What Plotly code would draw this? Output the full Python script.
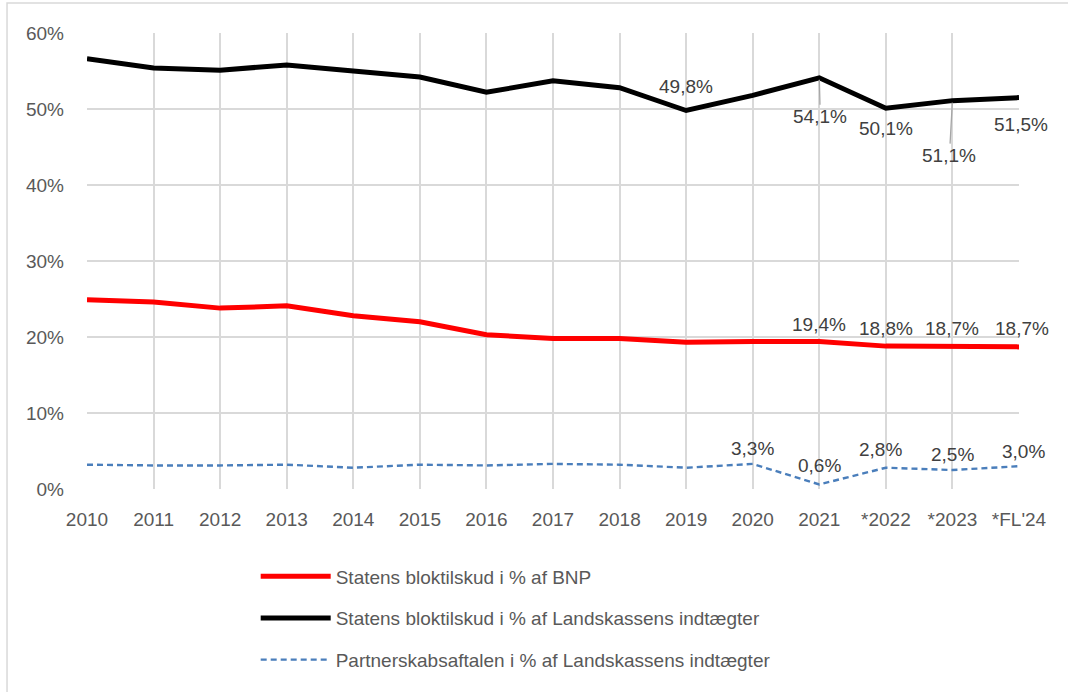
import plotly.graph_objects as go

categories = ["2010", "2011", "2012", "2013", "2014", "2015", "2016", "2017",
              "2018", "2019", "2020", "2021", "*2022", "*2023", "*FL'24"]

bnp = [24.9, 24.6, 23.8, 24.1, 22.8, 22.0, 20.3, 19.8, 19.8, 19.3, 19.4, 19.4, 18.8, 18.7, 18.7]
landskasse = [56.6, 55.4, 55.1, 55.8, 55.0, 54.2, 52.2, 53.7, 52.8, 49.8, 51.8, 54.1, 50.1, 51.1, 51.5]
partnerskab = [3.2, 3.1, 3.1, 3.2, 2.8, 3.2, 3.1, 3.3, 3.2, 2.8, 3.3, 0.6, 2.8, 2.5, 3.0]

y_ticks = [0, 10, 20, 30, 40, 50, 60]
y_ticktext = ["0%", "10%", "20%", "30%", "40%", "50%", "60%"]

names = ["Statens bloktilskud i % af BNP",
         "Statens bloktilskud i % af Landskassens indtægter",
         "Partnerskabsaftalen i % af Landskassens indtægter"]

FONT = "Liberation Sans"
GRID = "#d9d9d9"

fig = go.Figure()
fig.add_trace(go.Scatter(x=categories, y=bnp, mode="lines", name=names[0],
                         line=dict(color="#ff0000", width=5), legendgroup="a"))
fig.add_trace(go.Scatter(x=categories, y=landskasse, mode="lines", name=names[1],
                         line=dict(color="#000000", width=5), legendgroup="b"))
fig.add_trace(go.Scatter(x=categories, y=partnerskab, mode="lines", name=names[2],
                         line=dict(color="#4a7ebb", width=2.4, dash="6px,4px"), legendgroup="c"))

def fmt(v):
    return f"{v:.1f}".replace(".", ",") + "%"

# (series, category index, ax, ay, leader line)
label_specs = [
    (landskasse, 9, 0, -24, False),
    (landskasse, 11, 1, 39, True),
    (landskasse, 12, 0, 20, False),
    (landskasse, 13, -3, 55, True),
    (landskasse, 14, 2, 27, False),
    (bnp, 11, 0, -17, False),
    (bnp, 12, 0, -18, False),
    (bnp, 13, 0, -18, False),
    (bnp, 14, 3, -18, False),
    (partnerskab, 10, 0, -15, False),
    (partnerskab, 11, 0, -19, False),
    (partnerskab, 12, -5, -18, False),
    (partnerskab, 13, 0, -16, False),
    (partnerskab, 14, 4, -15, False),
]
for series, i, ax, ay, leader in label_specs:
    fig.add_annotation(
        x=i, y=series[i], text=fmt(series[i]),
        showarrow=True, ax=ax, ay=ay, axref="pixel", ayref="pixel",
        arrowhead=0, arrowwidth=1.3,
        arrowcolor="#a6a6a6" if leader else "rgba(0,0,0,0)",
        standoff=2 if leader else 0,
        font=dict(family=FONT, size=19, color="#404040"),
    )

# outer chart border (top and left visible)
fig.add_shape(type="rect", xref="paper", yref="paper",
              x0=-0.0858, x1=1.07, y0=-0.47, y1=1.0658,
              line=dict(color=GRID, width=1.5), layer="below")

fig.update_layout(
    width=1068, height=692,
    margin=dict(l=87, r=49, t=33, b=203, autoexpand=False),
    paper_bgcolor="white", plot_bgcolor="white",
    font=dict(family=FONT, size=19, color="#595959"),
    showlegend=True,
    legend=dict(
        x=0.181, y=-0.150, xanchor="left", yanchor="top",
        orientation="v", font=dict(family=FONT, size=19, color="#595959"),
        itemwidth=70, tracegroupgap=14, bgcolor="rgba(0,0,0,0)",
    ),
    xaxis=dict(
        type="category", range=[0, 14], showgrid=True, gridcolor=GRID, gridwidth=1.5,
        showline=False, zeroline=False, ticks="", tickfont=dict(size=19, color="#595959"),
        ticklabelstandoff=17,
    ),
    yaxis=dict(
        range=[0, 60], tickvals=y_ticks, ticktext=y_ticktext, showgrid=True,
        gridcolor=GRID, gridwidth=1.5, zeroline=False, showline=False, ticks="",
        tickfont=dict(size=19, color="#595959"), ticklabelstandoff=22,
    ),
)

fig.write_html("out.html", config={"displayModeBar": False},
               post_script="document.body.style.margin='0';")
